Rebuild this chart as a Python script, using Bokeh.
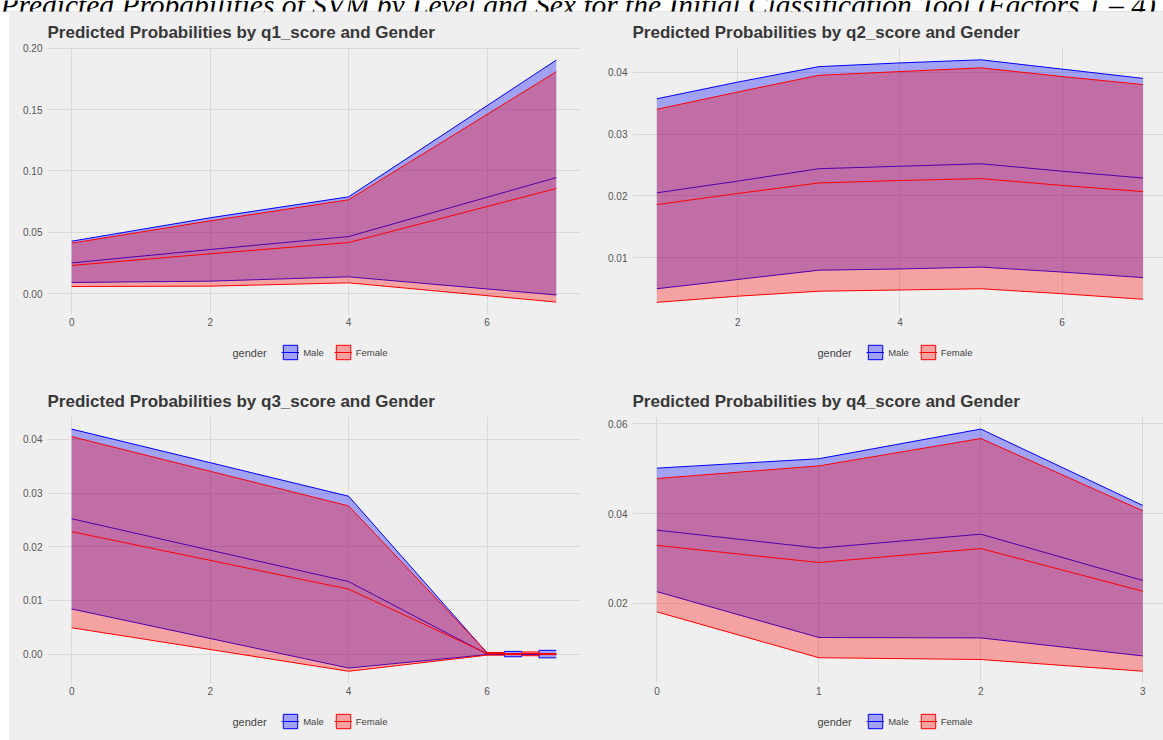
from bokeh.plotting import figure
from bokeh.models import (Range1d, FixedTicker, PrintfTickFormatter, Legend,
                          LegendItem, Label, Span, Spacer)
from bokeh.layouts import column, row
from bokeh.embed import file_html
from bokeh.resources import INLINE
from bokeh.core.properties import value

SUPTITLE = ("Predicted Probabilities of SVM by Level and Sex for the Initial "
            "Classification Tool (Factors 1 \u2013 4)")

# ---- q1 ----
q1_score = [0, 2, 4, 7]
q1_male_fit = [0.0250, 0.0359, 0.0465, 0.0946]
q1_male_lo = [0.0090, 0.0101, 0.0136, -0.0012]
q1_male_hi = [0.0427, 0.0618, 0.0789, 0.1905]
q1_female_fit = [0.0229, 0.0324, 0.0416, 0.0857]
q1_female_lo = [0.0057, 0.0060, 0.0087, -0.0070]
q1_female_hi = [0.0411, 0.0593, 0.0765, 0.1810]
q1_xticks = [0, 2, 4, 6]
q1_yticks = [0.00, 0.05, 0.10, 0.15, 0.20]

# ---- q2 ----
q2_score = [1, 2, 3, 4, 5, 6, 7]
q2_male_fit = [0.0205, 0.0224, 0.0244, 0.0248, 0.0252, 0.0240, 0.0229]
q2_male_lo = [0.0050, 0.0065, 0.0080, 0.0082, 0.0085, 0.0077, 0.0068]
q2_male_hi = [0.0357, 0.0384, 0.0409, 0.0415, 0.0420, 0.0405, 0.0390]
q2_female_fit = [0.0186, 0.0204, 0.0221, 0.0225, 0.0228, 0.0217, 0.0207]
q2_female_lo = [0.0028, 0.0038, 0.0046, 0.0048, 0.0050, 0.0042, 0.0033]
q2_female_hi = [0.0340, 0.0368, 0.0395, 0.0401, 0.0407, 0.0393, 0.0380]
q2_xticks = [2, 4, 6]
q2_yticks = [0.01, 0.02, 0.03, 0.04]

# ---- q3 (repeated scores above 6 give the stepped tail) ----
q3_score = [0, 4, 6, 6.25, 6.25, 6.5, 6.5, 6.75, 6.75, 7]
q3_male_fit = [0.0252, 0.0135, 0.0000, 0.0000, 0.0000, 0.0000, 0.0000, 0.0000, 0.0000, 0.0000]
q3_male_lo = [0.0084, -0.0026, -0.0001, -0.0001, -0.0005, -0.0005, -0.0001, -0.0001, -0.0007, -0.0007]
q3_male_hi = [0.0419, 0.0294, 0.0002, 0.0002, 0.0005, 0.0005, 0.0001, 0.0001, 0.0007, 0.0007]
q3_female_fit = [0.0228, 0.0121, 0.0001, 0.0001, 0.0000, 0.0000, 0.0001, 0.0001, 0.0000, 0.0000]
q3_female_lo = [0.0049, -0.0032, -0.0002, -0.0002, -0.0001, -0.0001, -0.0003, -0.0003, -0.0001, -0.0001]
q3_female_hi = [0.0405, 0.0276, 0.0003, 0.0003, 0.0001, 0.0001, 0.0004, 0.0004, 0.0001, 0.0001]
q3_xticks = [0, 2, 4, 6]
q3_yticks = [0.00, 0.01, 0.02, 0.03, 0.04]

# ---- q4 ----
q4_score = [0, 1, 2, 3]
q4_male_fit = [0.0363, 0.0323, 0.0354, 0.0251]
q4_male_lo = [0.0226, 0.0124, 0.0123, 0.0083]
q4_male_hi = [0.0501, 0.0522, 0.0588, 0.0418]
q4_female_fit = [0.0329, 0.0291, 0.0322, 0.0227]
q4_female_lo = [0.0181, 0.0079, 0.0075, 0.0049]
q4_female_hi = [0.0478, 0.0506, 0.0567, 0.0406]
q4_xticks = [0, 1, 2, 3]
q4_yticks = [0.02, 0.04, 0.06]

genders = ["Male", "Female"]

MALE = "#0000ff"
FEMALE = "#ff0000"
FILL_ALPHA = 0.32
BG = "#efefef"
GRID = "#d9d9d9"
FONT = "Liberation Sans"
CHART_H = 324
NAN = float("nan")


def make_panel(title, xs, series, xticks, yticks, xr, yr, width, left, strip_h):
    p = figure(width=width, height=CHART_H,
               x_range=Range1d(*xr), y_range=Range1d(*yr),
               output_backend="svg", toolbar_location=None,
               background_fill_color=BG, border_fill_color=BG,
               outline_line_color=None,
               min_border_left=left, min_border_right=0,
               min_border_top=35, min_border_bottom=22)

    p.title.text = title
    p.title.align = "left"
    p.title.text_font = FONT
    p.title.text_font_size = "17px"
    p.title.text_font_style = "bold"
    p.title.text_color = "#383838"
    p.title.standoff = 11

    p.xaxis.ticker = FixedTicker(ticks=xticks)
    p.yaxis.ticker = FixedTicker(ticks=yticks)
    p.xaxis.formatter = PrintfTickFormatter(format="%d")
    p.yaxis.formatter = PrintfTickFormatter(format="%.2f")
    for ax in (p.xaxis, p.yaxis):
        ax.axis_line_color = None
        ax.major_tick_line_color = None
        ax.minor_tick_line_color = None
        ax.major_tick_out = 0
        ax.major_tick_in = 0
        ax.major_label_text_font = FONT
        ax.major_label_text_font_size = "10px"
        ax.major_label_text_color = "#555555"
    p.xaxis.major_label_standoff = 3
    p.yaxis.major_label_standoff = 5
    p.grid.grid_line_color = GRID
    p.grid.grid_line_width = 1

    for g, color in zip(genders, (MALE, FEMALE)):
        lo, fit, hi = series[g]
        p.varea(x=xs, y1=lo, y2=hi, fill_color=color, fill_alpha=FILL_ALPHA)
        p.line(xs, hi, line_color=color, line_width=1)
        p.line(xs, fit, line_color=color, line_width=1)
        p.line(xs, lo, line_color=color, line_width=1)

    # legend strip under the chart (its frame lines up with the chart's frame);
    # the key glyphs hold no drawable points
    strip = figure(width=width, height=strip_h,
                   x_range=Range1d(0, width), y_range=Range1d(0, strip_h),
                   output_backend="svg", toolbar_location=None, min_border=0,
                   x_axis_location=None, y_axis_location=None,
                   outline_line_color=None, background_fill_color=BG,
                   border_fill_color=BG)
    strip.grid.visible = False
    items = []
    for g, color in zip(genders, (MALE, FEMALE)):
        key = strip.quad(left=[NAN], right=[NAN], top=[NAN], bottom=[NAN],
                         fill_color=color, fill_alpha=FILL_ALPHA,
                         line_color=color, line_width=1)
        stroke = strip.line(x=[NAN], y=[NAN], line_color=color, line_width=1)
        items.append(LegendItem(label=g, renderers=[key, stroke]))
    mid = strip_h - 16
    legend = Legend(items=items, orientation="horizontal",
                    location=(234.2, mid - 9),
                    glyph_width=18, glyph_height=18, label_height=18,
                    label_standoff=4, spacing=10, padding=0, margin=0,
                    border_line_color=None, background_fill_alpha=0,
                    label_text_font=FONT, label_text_font_size="9.5px",
                    label_text_color="#444444")
    strip.add_layout(legend)
    strip.add_layout(Label(x=185, y=mid, x_units="screen", y_units="screen",
                           text="gender", text_font=FONT, text_font_size="11px",
                           text_color="#444444", text_baseline="middle",
                           text_align="left"))
    return column(p, strip, styles={"background-color": BG})


p1 = make_panel("Predicted Probabilities by q1_score and Gender", q1_score,
                {"Male": (q1_male_lo, q1_male_fit, q1_male_hi),
                 "Female": (q1_female_lo, q1_female_fit, q1_female_hi)},
                q1_xticks, q1_yticks, (-0.35, 7.35), (-0.01714, 0.2008),
                571, 38, 45)
p2 = make_panel("Predicted Probabilities by q2_score and Gender", q2_score,
                {"Male": (q2_male_lo, q2_male_fit, q2_male_hi),
                 "Female": (q2_female_lo, q2_female_fit, q2_female_hi)},
                q2_xticks, q2_yticks, (0.70, 7.252), (0.00084, 0.04399),
                583, 52, 45)
p3 = make_panel("Predicted Probabilities by q3_score and Gender", q3_score,
                {"Male": (q3_male_lo, q3_male_fit, q3_male_hi),
                 "Female": (q3_female_lo, q3_female_fit, q3_female_hi)},
                q3_xticks, q3_yticks, (-0.35, 7.35), (-0.00548, 0.04425),
                571, 38, 35)
p4 = make_panel("Predicted Probabilities by q4_score and Gender", q4_score,
                {"Male": (q4_male_lo, q4_male_fit, q4_male_hi),
                 "Female": (q4_female_lo, q4_female_fit, q4_female_hi)},
                q4_xticks, q4_yticks, (-0.151, 3.128), (0.00216, 0.0616),
                583, 52, 35)

# overall heading strip, only the lower part of the line shows
head = figure(width=1163, height=12, x_range=Range1d(0, 1163), y_range=Range1d(0, 12),
              output_backend="svg", toolbar_location=None, min_border=0,
              x_axis_location=None, y_axis_location=None,
              outline_line_color=None, background_fill_color="white",
              border_fill_color="white")
head.grid.visible = False
head.text(x=[0], y=[8], text=[SUPTITLE], text_font=value("Liberation Serif"),
          text_font_style="italic", text_font_size="29.5px",
          text_baseline="alphabetic", text_color="#000000")
head.add_layout(Span(location=0.5, dimension="width", line_color="#c8c8c8", line_width=1))

layout = column(head,
                row(Spacer(width=9, height=369, styles={"background-color": "white"}),
                    p1, p2, styles={"background-color": BG}),
                row(Spacer(width=9, height=359, styles={"background-color": "white"}),
                    p3, p4, styles={"background-color": BG}))

open("out.html", "w").write(file_html(layout, INLINE))
